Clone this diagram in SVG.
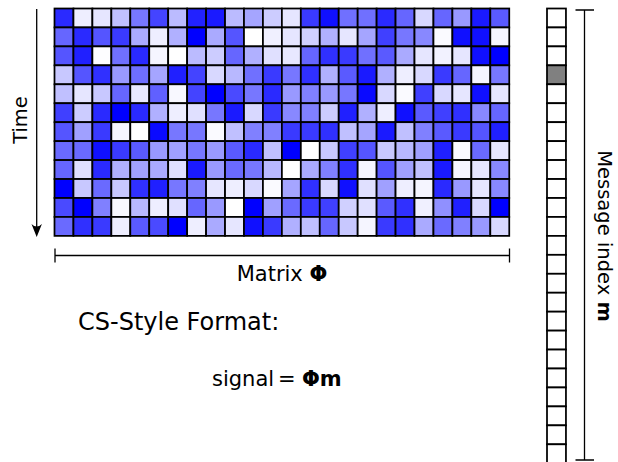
<svg xmlns="http://www.w3.org/2000/svg" width="618" height="462" viewBox="0 0 618 462">
<style>
.cell rect{stroke:#000;stroke-width:1.85}
.vec rect{fill:#fff;stroke:#000;stroke-width:1.85}
.ln{stroke:#000;stroke-width:1.3;fill:none}
text{font-family:"DejaVu Sans","Liberation Sans",sans-serif;font-size:19.5px;fill:#000}
.b{font-weight:bold}
</style>
<rect width="618" height="462" fill="#fff"/>
<g id="matrix" class="cell" transform="translate(54.5,8.5) scale(0.9474)">
<rect x="0" y="0" width="20" height="20" fill="#2a2aff"/><rect x="20" y="0" width="20" height="20" fill="#eeeeff"/><rect x="40" y="0" width="20" height="20" fill="#e6e6ff"/><rect x="60" y="0" width="20" height="20" fill="#c0c0ff"/><rect x="80" y="0" width="20" height="20" fill="#7777ff"/><rect x="100" y="0" width="20" height="20" fill="#4444ff"/><rect x="120" y="0" width="20" height="20" fill="#bbbbff"/><rect x="140" y="0" width="20" height="20" fill="#2222ff"/><rect x="160" y="0" width="20" height="20" fill="#1a1aff"/><rect x="180" y="0" width="20" height="20" fill="#bbbbff"/><rect x="200" y="0" width="20" height="20" fill="#a5a5ff"/><rect x="220" y="0" width="20" height="20" fill="#ccccff"/><rect x="240" y="0" width="20" height="20" fill="#e6e6ff"/><rect x="260" y="0" width="20" height="20" fill="#3a3aff"/><rect x="280" y="0" width="20" height="20" fill="#1010ff"/><rect x="300" y="0" width="20" height="20" fill="#7070ff"/><rect x="320" y="0" width="20" height="20" fill="#7070ff"/><rect x="340" y="0" width="20" height="20" fill="#2a2aff"/><rect x="360" y="0" width="20" height="20" fill="#6666ff"/><rect x="380" y="0" width="20" height="20" fill="#d8d8ff"/><rect x="400" y="0" width="20" height="20" fill="#6666ff"/><rect x="420" y="0" width="20" height="20" fill="#9999ff"/><rect x="440" y="0" width="20" height="20" fill="#1a1aff"/><rect x="460" y="0" width="20" height="20" fill="#5a5aff"/>
<rect x="0" y="20" width="20" height="20" fill="#6666ff"/><rect x="20" y="20" width="20" height="20" fill="#2a2aff"/><rect x="40" y="20" width="20" height="20" fill="#5555ff"/><rect x="60" y="20" width="20" height="20" fill="#3a3aff"/><rect x="80" y="20" width="20" height="20" fill="#aaaaff"/><rect x="100" y="20" width="20" height="20" fill="#eeeeff"/><rect x="120" y="20" width="20" height="20" fill="#b0b0ff"/><rect x="140" y="20" width="20" height="20" fill="#0000ff"/><rect x="160" y="20" width="20" height="20" fill="#aaaaff"/><rect x="180" y="20" width="20" height="20" fill="#5555ff"/><rect x="200" y="20" width="20" height="20" fill="#ffffff"/><rect x="220" y="20" width="20" height="20" fill="#f0f0ff"/><rect x="240" y="20" width="20" height="20" fill="#e6e6ff"/><rect x="260" y="20" width="20" height="20" fill="#d0d0ff"/><rect x="280" y="20" width="20" height="20" fill="#b0b0ff"/><rect x="300" y="20" width="20" height="20" fill="#e6e6ff"/><rect x="320" y="20" width="20" height="20" fill="#a5a5ff"/><rect x="340" y="20" width="20" height="20" fill="#4040ff"/><rect x="360" y="20" width="20" height="20" fill="#7777ff"/><rect x="380" y="20" width="20" height="20" fill="#8888ff"/><rect x="400" y="20" width="20" height="20" fill="#fafaff"/><rect x="420" y="20" width="20" height="20" fill="#1010ff"/><rect x="440" y="20" width="20" height="20" fill="#1010ff"/><rect x="460" y="20" width="20" height="20" fill="#f5f5ff"/>
<rect x="0" y="40" width="20" height="20" fill="#5555ff"/><rect x="20" y="40" width="20" height="20" fill="#2020ff"/><rect x="40" y="40" width="20" height="20" fill="#fdfdff"/><rect x="60" y="40" width="20" height="20" fill="#7070ff"/><rect x="80" y="40" width="20" height="20" fill="#2a2aff"/><rect x="100" y="40" width="20" height="20" fill="#f5f5ff"/><rect x="120" y="40" width="20" height="20" fill="#ffffff"/><rect x="140" y="40" width="20" height="20" fill="#bbbbff"/><rect x="160" y="40" width="20" height="20" fill="#ccccff"/><rect x="180" y="40" width="20" height="20" fill="#6666ff"/><rect x="200" y="40" width="20" height="20" fill="#b0b0ff"/><rect x="220" y="40" width="20" height="20" fill="#e0e0ff"/><rect x="240" y="40" width="20" height="20" fill="#e8e8ff"/><rect x="260" y="40" width="20" height="20" fill="#6666ff"/><rect x="280" y="40" width="20" height="20" fill="#3030ff"/><rect x="300" y="40" width="20" height="20" fill="#3a3aff"/><rect x="320" y="40" width="20" height="20" fill="#7070ff"/><rect x="340" y="40" width="20" height="20" fill="#5a5aff"/><rect x="360" y="40" width="20" height="20" fill="#aaaaff"/><rect x="380" y="40" width="20" height="20" fill="#e6e6ff"/><rect x="400" y="40" width="20" height="20" fill="#f2f2ff"/><rect x="420" y="40" width="20" height="20" fill="#e6e6ff"/><rect x="440" y="40" width="20" height="20" fill="#1010ff"/><rect x="460" y="40" width="20" height="20" fill="#0000ff"/>
<rect x="0" y="60" width="20" height="20" fill="#c8c8ff"/><rect x="20" y="60" width="20" height="20" fill="#5555ff"/><rect x="40" y="60" width="20" height="20" fill="#3030ff"/><rect x="60" y="60" width="20" height="20" fill="#9999ff"/><rect x="80" y="60" width="20" height="20" fill="#6e6eff"/><rect x="100" y="60" width="20" height="20" fill="#a5a5ff"/><rect x="120" y="60" width="20" height="20" fill="#2020ff"/><rect x="140" y="60" width="20" height="20" fill="#4444ff"/><rect x="160" y="60" width="20" height="20" fill="#d8d8ff"/><rect x="180" y="60" width="20" height="20" fill="#b8b8ff"/><rect x="200" y="60" width="20" height="20" fill="#7070ff"/><rect x="220" y="60" width="20" height="20" fill="#3a3aff"/><rect x="240" y="60" width="20" height="20" fill="#7777ff"/><rect x="260" y="60" width="20" height="20" fill="#3030ff"/><rect x="280" y="60" width="20" height="20" fill="#b0b0ff"/><rect x="300" y="60" width="20" height="20" fill="#5a5aff"/><rect x="320" y="60" width="20" height="20" fill="#1a1aff"/><rect x="340" y="60" width="20" height="20" fill="#b0b0ff"/><rect x="360" y="60" width="20" height="20" fill="#eeeeff"/><rect x="380" y="60" width="20" height="20" fill="#d8d8ff"/><rect x="400" y="60" width="20" height="20" fill="#3a3aff"/><rect x="420" y="60" width="20" height="20" fill="#6666ff"/><rect x="440" y="60" width="20" height="20" fill="#f5f5ff"/><rect x="460" y="60" width="20" height="20" fill="#7777ff"/>
<rect x="0" y="80" width="20" height="20" fill="#c0c0ff"/><rect x="20" y="80" width="20" height="20" fill="#e6e6ff"/><rect x="40" y="80" width="20" height="20" fill="#c8c8ff"/><rect x="60" y="80" width="20" height="20" fill="#6666ff"/><rect x="80" y="80" width="20" height="20" fill="#e8e8ff"/><rect x="100" y="80" width="20" height="20" fill="#6060ff"/><rect x="120" y="80" width="20" height="20" fill="#f8f8ff"/><rect x="140" y="80" width="20" height="20" fill="#4444ff"/><rect x="160" y="80" width="20" height="20" fill="#0000ff"/><rect x="180" y="80" width="20" height="20" fill="#4a4aff"/><rect x="200" y="80" width="20" height="20" fill="#7777ff"/><rect x="220" y="80" width="20" height="20" fill="#2a2aff"/><rect x="240" y="80" width="20" height="20" fill="#9999ff"/><rect x="260" y="80" width="20" height="20" fill="#8080ff"/><rect x="280" y="80" width="20" height="20" fill="#9999ff"/><rect x="300" y="80" width="20" height="20" fill="#7777ff"/><rect x="320" y="80" width="20" height="20" fill="#0a0aff"/><rect x="340" y="80" width="20" height="20" fill="#d8d8ff"/><rect x="360" y="80" width="20" height="20" fill="#fafaff"/><rect x="380" y="80" width="20" height="20" fill="#4040ff"/><rect x="400" y="80" width="20" height="20" fill="#d8d8ff"/><rect x="420" y="80" width="20" height="20" fill="#e6e6ff"/><rect x="440" y="80" width="20" height="20" fill="#1010ff"/><rect x="460" y="80" width="20" height="20" fill="#e6e6ff"/>
<rect x="0" y="100" width="20" height="20" fill="#4040ff"/><rect x="20" y="100" width="20" height="20" fill="#ccccff"/><rect x="40" y="100" width="20" height="20" fill="#2a2aff"/><rect x="60" y="100" width="20" height="20" fill="#0000ff"/><rect x="80" y="100" width="20" height="20" fill="#2a2aff"/><rect x="100" y="100" width="20" height="20" fill="#b0b0ff"/><rect x="120" y="100" width="20" height="20" fill="#eeeeff"/><rect x="140" y="100" width="20" height="20" fill="#e0e0ff"/><rect x="160" y="100" width="20" height="20" fill="#7777ff"/><rect x="180" y="100" width="20" height="20" fill="#1a1aff"/><rect x="200" y="100" width="20" height="20" fill="#d8d8ff"/><rect x="220" y="100" width="20" height="20" fill="#3a3aff"/><rect x="240" y="100" width="20" height="20" fill="#8888ff"/><rect x="260" y="100" width="20" height="20" fill="#8080ff"/><rect x="280" y="100" width="20" height="20" fill="#ccccff"/><rect x="300" y="100" width="20" height="20" fill="#2020ff"/><rect x="320" y="100" width="20" height="20" fill="#b0b0ff"/><rect x="340" y="100" width="20" height="20" fill="#eeeeff"/><rect x="360" y="100" width="20" height="20" fill="#1010ff"/><rect x="380" y="100" width="20" height="20" fill="#5a5aff"/><rect x="400" y="100" width="20" height="20" fill="#4040ff"/><rect x="420" y="100" width="20" height="20" fill="#3030ff"/><rect x="440" y="100" width="20" height="20" fill="#8888ff"/><rect x="460" y="100" width="20" height="20" fill="#6666ff"/>
<rect x="0" y="120" width="20" height="20" fill="#5555ff"/><rect x="20" y="120" width="20" height="20" fill="#a0a0ff"/><rect x="40" y="120" width="20" height="20" fill="#3a3aff"/><rect x="60" y="120" width="20" height="20" fill="#f5f5ff"/><rect x="80" y="120" width="20" height="20" fill="#ffffff"/><rect x="100" y="120" width="20" height="20" fill="#0a0aff"/><rect x="120" y="120" width="20" height="20" fill="#7777ff"/><rect x="140" y="120" width="20" height="20" fill="#7777ff"/><rect x="160" y="120" width="20" height="20" fill="#fafaff"/><rect x="180" y="120" width="20" height="20" fill="#c0c0ff"/><rect x="200" y="120" width="20" height="20" fill="#8080ff"/><rect x="220" y="120" width="20" height="20" fill="#8080ff"/><rect x="240" y="120" width="20" height="20" fill="#3a3aff"/><rect x="260" y="120" width="20" height="20" fill="#3a3aff"/><rect x="280" y="120" width="20" height="20" fill="#3030ff"/><rect x="300" y="120" width="20" height="20" fill="#c0c0ff"/><rect x="320" y="120" width="20" height="20" fill="#a5a5ff"/><rect x="340" y="120" width="20" height="20" fill="#1a1aff"/><rect x="360" y="120" width="20" height="20" fill="#c0c0ff"/><rect x="380" y="120" width="20" height="20" fill="#8080ff"/><rect x="400" y="120" width="20" height="20" fill="#5a5aff"/><rect x="420" y="120" width="20" height="20" fill="#3a3aff"/><rect x="440" y="120" width="20" height="20" fill="#5555ff"/><rect x="460" y="120" width="20" height="20" fill="#2020ff"/>
<rect x="0" y="140" width="20" height="20" fill="#6a6aff"/><rect x="20" y="140" width="20" height="20" fill="#6a6aff"/><rect x="40" y="140" width="20" height="20" fill="#1010ff"/><rect x="60" y="140" width="20" height="20" fill="#3a3aff"/><rect x="80" y="140" width="20" height="20" fill="#5a5aff"/><rect x="100" y="140" width="20" height="20" fill="#9999ff"/><rect x="120" y="140" width="20" height="20" fill="#a0a0ff"/><rect x="140" y="140" width="20" height="20" fill="#7777ff"/><rect x="160" y="140" width="20" height="20" fill="#9999ff"/><rect x="180" y="140" width="20" height="20" fill="#5a5aff"/><rect x="200" y="140" width="20" height="20" fill="#2a2aff"/><rect x="220" y="140" width="20" height="20" fill="#c0c0ff"/><rect x="240" y="140" width="20" height="20" fill="#0000ff"/><rect x="260" y="140" width="20" height="20" fill="#ffffff"/><rect x="280" y="140" width="20" height="20" fill="#c8c8ff"/><rect x="300" y="140" width="20" height="20" fill="#4040ff"/><rect x="320" y="140" width="20" height="20" fill="#5555ff"/><rect x="340" y="140" width="20" height="20" fill="#c8c8ff"/><rect x="360" y="140" width="20" height="20" fill="#b8b8ff"/><rect x="380" y="140" width="20" height="20" fill="#a0a0ff"/><rect x="400" y="140" width="20" height="20" fill="#2020ff"/><rect x="420" y="140" width="20" height="20" fill="#fafaff"/><rect x="440" y="140" width="20" height="20" fill="#6a6aff"/><rect x="460" y="140" width="20" height="20" fill="#e6e6ff"/>
<rect x="0" y="160" width="20" height="20" fill="#6666ff"/><rect x="20" y="160" width="20" height="20" fill="#e0e0ff"/><rect x="40" y="160" width="20" height="20" fill="#2a2aff"/><rect x="60" y="160" width="20" height="20" fill="#b0b0ff"/><rect x="80" y="160" width="20" height="20" fill="#a0a0ff"/><rect x="100" y="160" width="20" height="20" fill="#aaaaff"/><rect x="120" y="160" width="20" height="20" fill="#e0e0ff"/><rect x="140" y="160" width="20" height="20" fill="#1a1aff"/><rect x="160" y="160" width="20" height="20" fill="#9999ff"/><rect x="180" y="160" width="20" height="20" fill="#6a6aff"/><rect x="200" y="160" width="20" height="20" fill="#7777ff"/><rect x="220" y="160" width="20" height="20" fill="#b8b8ff"/><rect x="240" y="160" width="20" height="20" fill="#ffffff"/><rect x="260" y="160" width="20" height="20" fill="#aaaaff"/><rect x="280" y="160" width="20" height="20" fill="#8080ff"/><rect x="300" y="160" width="20" height="20" fill="#3030ff"/><rect x="320" y="160" width="20" height="20" fill="#f5f5ff"/><rect x="340" y="160" width="20" height="20" fill="#5555ff"/><rect x="360" y="160" width="20" height="20" fill="#a0a0ff"/><rect x="380" y="160" width="20" height="20" fill="#c0c0ff"/><rect x="400" y="160" width="20" height="20" fill="#1a1aff"/><rect x="420" y="160" width="20" height="20" fill="#f5f5ff"/><rect x="440" y="160" width="20" height="20" fill="#e6e6ff"/><rect x="460" y="160" width="20" height="20" fill="#8888ff"/>
<rect x="0" y="180" width="20" height="20" fill="#0000ff"/><rect x="20" y="180" width="20" height="20" fill="#c8c8ff"/><rect x="40" y="180" width="20" height="20" fill="#6a6aff"/><rect x="60" y="180" width="20" height="20" fill="#c8c8ff"/><rect x="80" y="180" width="20" height="20" fill="#3030ff"/><rect x="100" y="180" width="20" height="20" fill="#2020ff"/><rect x="120" y="180" width="20" height="20" fill="#7777ff"/><rect x="140" y="180" width="20" height="20" fill="#8080ff"/><rect x="160" y="180" width="20" height="20" fill="#e6e6ff"/><rect x="180" y="180" width="20" height="20" fill="#eeeeff"/><rect x="200" y="180" width="20" height="20" fill="#d8d8ff"/><rect x="220" y="180" width="20" height="20" fill="#fafaff"/><rect x="240" y="180" width="20" height="20" fill="#a5a5ff"/><rect x="260" y="180" width="20" height="20" fill="#3030ff"/><rect x="280" y="180" width="20" height="20" fill="#d8d8ff"/><rect x="300" y="180" width="20" height="20" fill="#1010ff"/><rect x="320" y="180" width="20" height="20" fill="#e0e0ff"/><rect x="340" y="180" width="20" height="20" fill="#a0a0ff"/><rect x="360" y="180" width="20" height="20" fill="#eeeeff"/><rect x="380" y="180" width="20" height="20" fill="#f5f5ff"/><rect x="400" y="180" width="20" height="20" fill="#2a2aff"/><rect x="420" y="180" width="20" height="20" fill="#9999ff"/><rect x="440" y="180" width="20" height="20" fill="#e6e6ff"/><rect x="460" y="180" width="20" height="20" fill="#8888ff"/>
<rect x="0" y="200" width="20" height="20" fill="#4a4aff"/><rect x="20" y="200" width="20" height="20" fill="#0000ff"/><rect x="40" y="200" width="20" height="20" fill="#8080ff"/><rect x="60" y="200" width="20" height="20" fill="#f8f8ff"/><rect x="80" y="200" width="20" height="20" fill="#b8b8ff"/><rect x="100" y="200" width="20" height="20" fill="#eeeeff"/><rect x="120" y="200" width="20" height="20" fill="#e0e0ff"/><rect x="140" y="200" width="20" height="20" fill="#6666ff"/><rect x="160" y="200" width="20" height="20" fill="#9999ff"/><rect x="180" y="200" width="20" height="20" fill="#ffffff"/><rect x="200" y="200" width="20" height="20" fill="#0000ff"/><rect x="220" y="200" width="20" height="20" fill="#a0a0ff"/><rect x="240" y="200" width="20" height="20" fill="#6a6aff"/><rect x="260" y="200" width="20" height="20" fill="#3a3aff"/><rect x="280" y="200" width="20" height="20" fill="#4040ff"/><rect x="300" y="200" width="20" height="20" fill="#d0d0ff"/><rect x="320" y="200" width="20" height="20" fill="#e0e0ff"/><rect x="340" y="200" width="20" height="20" fill="#5a5aff"/><rect x="360" y="200" width="20" height="20" fill="#3030ff"/><rect x="380" y="200" width="20" height="20" fill="#f0f0ff"/><rect x="400" y="200" width="20" height="20" fill="#9090ff"/><rect x="420" y="200" width="20" height="20" fill="#2020ff"/><rect x="440" y="200" width="20" height="20" fill="#d8d8ff"/><rect x="460" y="200" width="20" height="20" fill="#0000ff"/>
<rect x="0" y="220" width="20" height="20" fill="#6a6aff"/><rect x="20" y="220" width="20" height="20" fill="#3030ff"/><rect x="40" y="220" width="20" height="20" fill="#3a3aff"/><rect x="60" y="220" width="20" height="20" fill="#eeeeff"/><rect x="80" y="220" width="20" height="20" fill="#5a5aff"/><rect x="100" y="220" width="20" height="20" fill="#4a4aff"/><rect x="120" y="220" width="20" height="20" fill="#0000ff"/><rect x="140" y="220" width="20" height="20" fill="#eeeeff"/><rect x="160" y="220" width="20" height="20" fill="#aaaaff"/><rect x="180" y="220" width="20" height="20" fill="#e6e6ff"/><rect x="200" y="220" width="20" height="20" fill="#1010ff"/><rect x="220" y="220" width="20" height="20" fill="#3a3aff"/><rect x="240" y="220" width="20" height="20" fill="#b0b0ff"/><rect x="260" y="220" width="20" height="20" fill="#c0c0ff"/><rect x="280" y="220" width="20" height="20" fill="#6666ff"/><rect x="300" y="220" width="20" height="20" fill="#c8c8ff"/><rect x="320" y="220" width="20" height="20" fill="#f5f5ff"/><rect x="340" y="220" width="20" height="20" fill="#3a3aff"/><rect x="360" y="220" width="20" height="20" fill="#3030ff"/><rect x="380" y="220" width="20" height="20" fill="#aaaaff"/><rect x="400" y="220" width="20" height="20" fill="#6a6aff"/><rect x="420" y="220" width="20" height="20" fill="#8080ff"/><rect x="440" y="220" width="20" height="20" fill="#9999ff"/><rect x="460" y="220" width="20" height="20" fill="#d8d8ff"/>
</g>
<g id="vector" class="vec" transform="translate(547,8.5) scale(0.9474)">
<rect x="0" y="0" width="20" height="20"/><rect x="0" y="20" width="20" height="20"/><rect x="0" y="40" width="20" height="20"/><rect x="0" y="60" width="20" height="20" style="fill:#808080"/><rect x="0" y="80" width="20" height="20"/><rect x="0" y="100" width="20" height="20"/><rect x="0" y="120" width="20" height="20"/><rect x="0" y="140" width="20" height="20"/><rect x="0" y="160" width="20" height="20"/><rect x="0" y="180" width="20" height="20"/><rect x="0" y="200" width="20" height="20"/><rect x="0" y="220" width="20" height="20"/><rect x="0" y="240" width="20" height="20"/><rect x="0" y="260" width="20" height="20"/><rect x="0" y="280" width="20" height="20"/><rect x="0" y="300" width="20" height="20"/><rect x="0" y="320" width="20" height="20"/><rect x="0" y="340" width="20" height="20"/><rect x="0" y="360" width="20" height="20"/><rect x="0" y="380" width="20" height="20"/><rect x="0" y="400" width="20" height="20"/><rect x="0" y="420" width="20" height="20"/><rect x="0" y="440" width="20" height="20"/><rect x="0" y="460" width="20" height="20"/>
</g>
<g id="connectors">
<path class="ln" d="M36.7 9 V230"/>
<path d="M36.7 237 L31.5 224 Q36.7 229 41.9 224 Z" fill="#000"/>
<path class="ln" d="M55 255.5 H509.5 M55 248.5 V262.5 M509.5 248.5 V262.5"/>
<path class="ln" d="M584.5 10 V460 M575.5 10 H594 M575.5 460 H594"/>
</g>
<g id="labels">
<text transform="translate(27,120) rotate(-90)" text-anchor="middle">Time</text>
<text x="282" y="281" text-anchor="middle" style="font-size:21px">Matrix <tspan class="b">Φ</tspan></text>
<text x="78" y="330" style="font-size:24px">CS-Style Format:</text>
<text y="386" style="font-size:21px"><tspan x="212">signal</tspan><tspan x="278">=</tspan><tspan x="302" class="b">Φm</tspan></text>
<text transform="translate(598,236) rotate(90)" text-anchor="middle">Message index <tspan class="b">m</tspan></text>
</g>
</svg>
